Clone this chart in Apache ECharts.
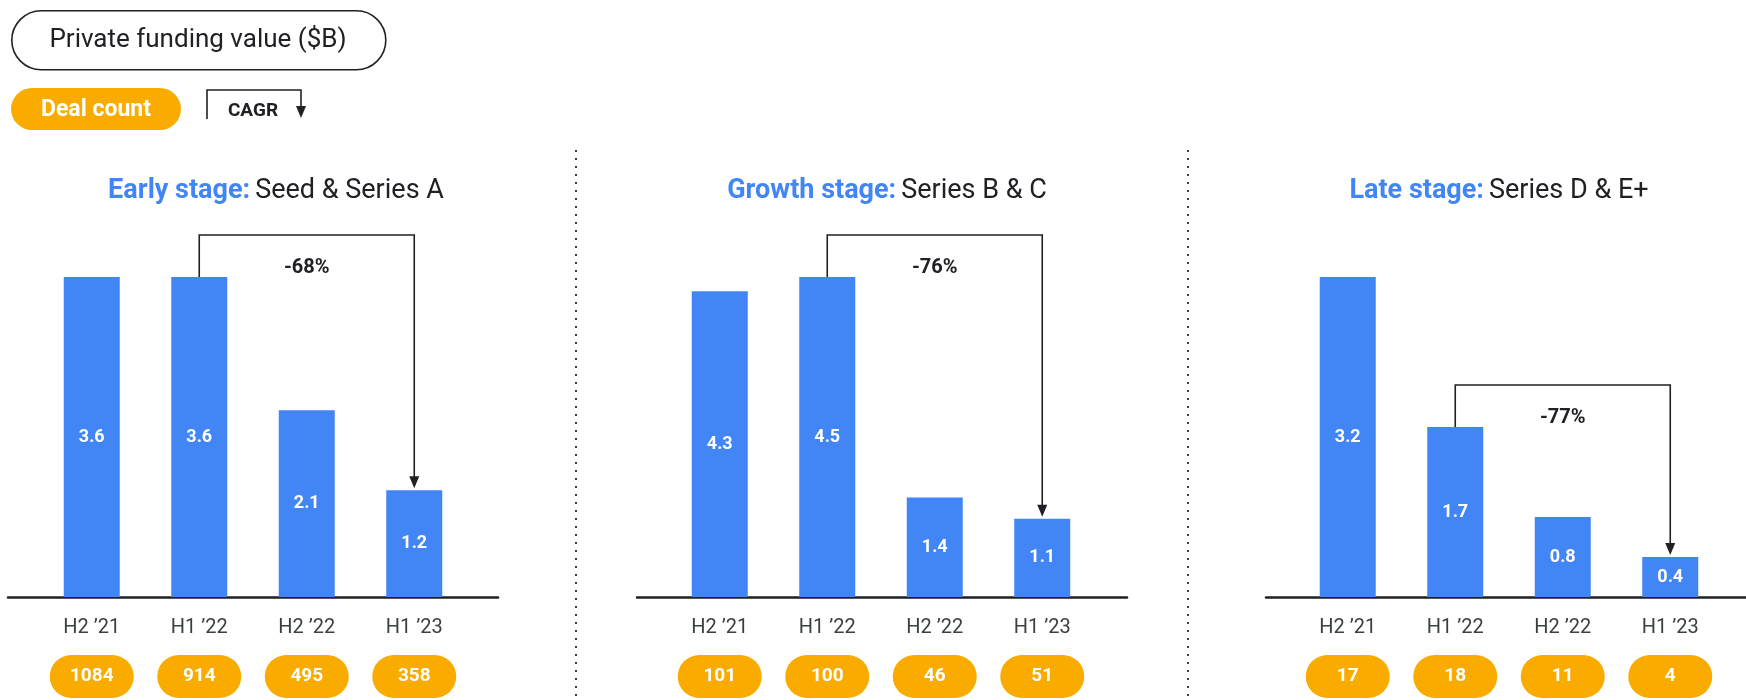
<!DOCTYPE html>
<html>
<head>
<meta charset="utf-8">
<script src="https://cdn.jsdelivr.net/npm/echarts@6/dist/echarts.min.js"></script>
<style>
  html, body { margin: 0; padding: 0; background: #ffffff; }
  #chart { width: 1746px; height: 700px; }
</style>
</head>
<body>
<div id="chart"></div>
<script>
// ---- Data ----
const categories = ["H2 \u201921", "H1 \u201922", "H2 \u201922", "H1 \u201923"];
const panelTitleBold = ["Early stage:", "Growth stage:", "Late stage:"];
const panelTitleRest = ["Seed & Series A", "Series B & C", "Series D & E+"];
const earlyValues = [3.6, 3.6, 2.1, 1.2];
const growthValues = [4.3, 4.5, 1.4, 1.1];
const lateValues = [3.2, 1.7, 0.8, 0.4];
const earlyDeals = [1084, 914, 495, 358];
const growthDeals = [101, 100, 46, 51];
const lateDeals = [17, 18, 11, 4];
const cagrLabels = ["-68%", "-76%", "-77%"];
const cagrStart = [1, 1, 1];
const cagrEnd = [3, 3, 3];

// ---- Styles / layout ----
const FONT = "Roboto, 'Noto Sans', sans-serif";
const BLUE = "#4285F4";
const ORANGE = "#F9AB00";
const DARK = "#202124";
const panels = [
  { values: earlyValues, deals: earlyDeals, gridLeft: 38, axisLeft: 8, titleX: 271 },
  { values: growthValues, deals: growthDeals, gridLeft: 666, axisLeft: 637, titleX: 882 },
  { values: lateValues, deals: lateDeals, gridLeft: 1294, axisLeft: 1266, titleX: 1494 }
];
const GRID_TOP = 277, GRID_BOTTOM = 103, GRID_W = 430, AXIS_W = 490;

const grid = [], xAxis = [], yAxis = [], series = [], title = [];

panels.forEach((p, i) => {
  const gBar = grid.length;
  grid.push({ left: p.gridLeft, width: GRID_W, top: GRID_TOP, bottom: GRID_BOTTOM });
  const gLine = grid.length;
  grid.push({ left: p.axisLeft, width: AXIS_W, top: GRID_TOP, bottom: GRID_BOTTOM });

  // category axis (labels)
  const xCat = xAxis.length;
  xAxis.push({
    type: 'category', gridIndex: gBar, data: categories,
    axisLine: { show: false }, axisTick: { show: false },
    axisLabel: { fontFamily: FONT, fontSize: 20, lineHeight: 20, color: '#3c4043', margin: 21 }
  });
  // deal count pills axis
  xAxis.push({
    type: 'category', gridIndex: gBar, position: 'bottom', offset: 50,
    data: p.deals.map(String),
    axisLine: { show: false }, axisTick: { show: false },
    axisLabel: {
      fontFamily: FONT, fontSize: 19, fontWeight: 'bold', color: '#ffffff',
      backgroundColor: ORANGE, borderRadius: 21.5, width: 84, height: 43, lineHeight: 43,
      padding: 0, margin: 8, align: 'center'
    }
  });
  // full-width baseline axis
  xAxis.push({
    type: 'value', gridIndex: gLine, min: 0, max: 1,
    axisLine: { show: true, lineStyle: { color: DARK, width: 2.5 } },
    axisTick: { show: false }, axisLabel: { show: false }, splitLine: { show: false }
  });

  const yBar = yAxis.length;
  yAxis.push({ type: 'value', gridIndex: gBar, min: 0, max: v => v.max, show: false, splitLine: { show: false } });
  yAxis.push({ type: 'value', gridIndex: gLine, show: false, splitLine: { show: false } });

  series.push({
    type: 'bar', xAxisIndex: xCat, yAxisIndex: yBar, data: p.values,
    barWidth: 56, itemStyle: { color: BLUE }, silent: true,
    label: { show: true, position: 'inside', color: '#ffffff', fontFamily: FONT, fontWeight: 'bold', fontSize: 18 }
  });

  const lbl = cagrLabels[i];
  series.push({
    type: 'custom', xAxisIndex: xCat, yAxisIndex: yBar, silent: true, z: 5,
    data: [[cagrStart[i], p.values[cagrStart[i]], cagrEnd[i], p.values[cagrEnd[i]]]],
    renderItem: function (params, api) {
      const s = api.coord([api.value(0), api.value(1)]);
      const e = api.coord([api.value(2), api.value(3)]);
      const topY = s[1] - 42;
      const tipY = e[1] - 2;
      return {
        type: 'group',
        children: [
          { type: 'polyline', shape: { points: [[s[0], s[1]], [s[0], topY], [e[0], topY], [e[0], tipY - 10]] },
            style: { stroke: DARK, lineWidth: 1.6, fill: null } },
          { type: 'polygon', shape: { points: [[e[0] - 5, tipY - 12], [e[0] + 5, tipY - 12], [e[0], tipY]] },
            style: { fill: DARK } },
          { type: 'text', x: (s[0] + e[0]) / 2, y: topY + 33,
            style: { text: lbl, align: 'center', verticalAlign: 'middle', fill: DARK,
              font: 'bold 20px ' + FONT } }
        ]
      };
    }
  });

  title.push({
    text: '{b|' + panelTitleBold[i] + '} {n|' + panelTitleRest[i] + '}',
    left: p.titleX, top: 173, textAlign: 'center',
    textStyle: {
      fontWeight: 'normal',
      rich: {
        b: { fontFamily: FONT, fontSize: 27, fontWeight: 'bold', color: BLUE },
        n: { fontFamily: FONT, fontSize: 27, fontWeight: 'normal', color: DARK }
      }
    }
  });
});

const graphic = [
  // legend: funding value pill
  { type: 'rect', left: 11, top: 10, shape: { width: 374, height: 59, r: 29.5 },
    style: { fill: '#ffffff', stroke: DARK, lineWidth: 1.6 } },
  { type: 'text', x: 198, y: 40, style: { text: 'Private funding value ($B)', align: 'center', verticalAlign: 'middle',
    font: '26px ' + FONT, fill: DARK } },
  // legend: deal count pill
  { type: 'rect', left: 11, top: 88, shape: { width: 170, height: 42, r: 21 }, style: { fill: ORANGE } },
  { type: 'text', x: 96, y: 110, style: { text: 'Deal count', align: 'center', verticalAlign: 'middle',
    font: 'bold 23px ' + FONT, fill: '#ffffff' } },
  // legend: CAGR bracket
  { type: 'polyline', shape: { points: [[207, 119], [207, 90], [301, 90], [301, 108]] },
    style: { stroke: DARK, lineWidth: 1.6, fill: null } },
  { type: 'polygon', shape: { points: [[296, 106], [306, 106], [301, 118]] }, style: { fill: DARK } },
  { type: 'text', x: 253, y: 111, style: { text: 'CAGR', align: 'center', verticalAlign: 'middle',
    font: 'bold 19px ' + FONT, fill: DARK } },
  // dotted separators
  { type: 'line', shape: { x1: 576, y1: 150, x2: 576, y2: 698 },
    style: { stroke: '#3c4043', lineWidth: 2, lineDash: [2, 6] } },
  { type: 'line', shape: { x1: 1188, y1: 150, x2: 1188, y2: 698 },
    style: { stroke: '#3c4043', lineWidth: 2, lineDash: [2, 6] } }
];

const chart = echarts.init(document.getElementById('chart'), null, { renderer: 'canvas' });
chart.setOption({
  animation: false,
  backgroundColor: '#ffffff',
  title: title,
  grid: grid,
  xAxis: xAxis,
  yAxis: yAxis,
  series: series,
  graphic: graphic
});
</script>
</body>
</html>
